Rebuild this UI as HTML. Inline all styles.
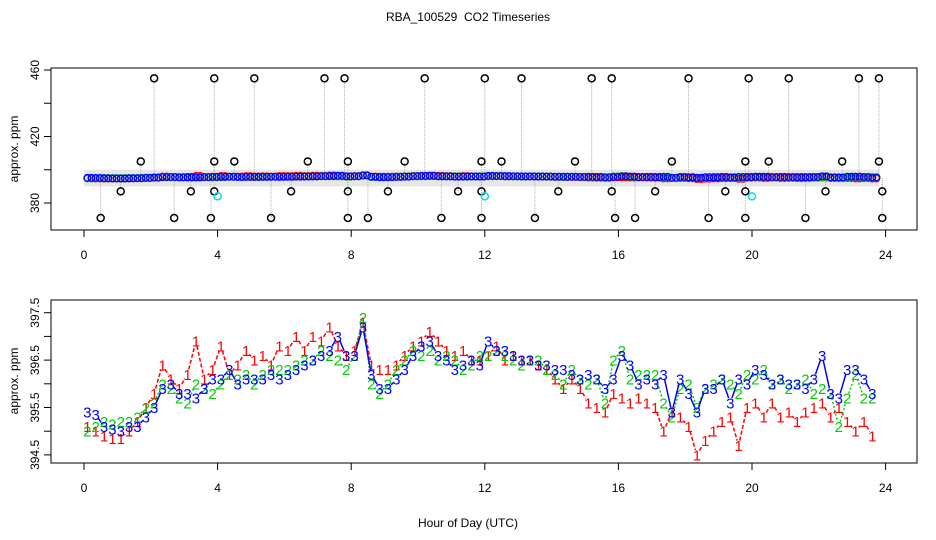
<!DOCTYPE html>
<html><head><meta charset="utf-8"><style>
html,body{margin:0;padding:0;background:#fff;}
svg{display:block;font-family:"Liberation Sans",sans-serif;}
</style></head><body>
<svg id="c" width="936" height="540" xmlns="http://www.w3.org/2000/svg">
<text x="468" y="21" text-anchor="middle" font-size="12">RBA_100529 &#160;CO2 Timeseries</text>
<text x="468" y="527" text-anchor="middle" font-size="12">Hour of Day (UTC)</text>
<text transform="translate(18,149) rotate(-90)" text-anchor="middle" font-size="12">approx. ppm</text>
<text transform="translate(18,381) rotate(-90)" text-anchor="middle" font-size="12">approx. ppm</text>
<g id="topPanel"></g>
<g id="botPanel"></g>
</svg>
<script>
const hourTicks=[0,4,8,12,16,20,24];
const topTicks=[380,400,420,440,460];
const topTickLabels=["380","","420","","460"];
const botTicks=[394.5,395,395.5,396,396.5,397,397.5];
const botTickLabels=["394.5","","395.5","","396.5","","397.5"];
const series1=[395.1,395.0,394.9,394.85,394.85,395.0,395.2,395.5,395.8,396.4,396.1,395.9,396.2,396.9,396.1,396.3,396.8,396.2,396.4,396.7,396.5,396.6,396.4,396.8,396.7,397.0,396.7,397.0,396.9,397.2,396.8,396.6,396.7,397.3,396.4,396.3,396.3,396.4,396.6,396.8,396.9,397.1,396.9,396.7,396.6,396.7,396.5,396.5,396.6,396.8,396.5,396.6,396.5,396.5,396.4,396.3,396.1,395.9,396.1,395.9,395.6,395.5,395.4,395.8,395.7,395.6,395.7,395.6,395.5,395.0,395.4,395.3,395.1,394.5,394.8,395.0,395.2,395.3,394.7,395.5,395.6,395.3,395.6,395.3,395.4,395.2,395.4,395.5,395.6,395.3,395.5,395.2,395.0,395.2,394.9];
const series2=[395.0,395.1,395.2,395.15,395.2,395.2,395.3,395.5,395.6,396.0,395.9,395.7,395.6,396.0,395.9,395.8,396.0,396.2,396.1,396.2,396.0,396.2,396.3,396.3,396.3,396.4,396.5,396.5,396.7,396.6,396.5,396.3,396.6,397.4,396.0,395.8,396.0,396.3,396.5,396.7,396.6,396.7,396.5,396.6,396.5,396.3,396.4,396.6,396.6,396.7,396.6,396.5,396.4,396.5,396.5,396.3,396.2,396.0,396.3,396.1,396.0,396.1,395.6,396.5,396.7,396.1,396.2,396.2,396.2,395.6,395.3,395.9,396.0,395.5,395.9,396.0,396.1,396.0,395.8,396.2,396.1,396.3,396.0,396.1,395.9,396.0,396.1,395.8,395.9,395.8,395.1,395.7,396.2,395.7,395.7];
const series3=[395.4,395.35,395.1,395.05,395.0,395.1,395.1,395.3,395.5,395.9,396.0,395.8,395.8,395.7,395.9,396.1,396.1,396.3,396.0,396.1,396.1,396.1,396.2,396.1,396.2,396.3,396.4,396.5,396.6,396.7,397.0,396.6,396.6,397.2,396.2,395.9,395.9,396.1,396.3,396.6,396.8,396.9,396.6,396.5,396.3,396.4,396.5,396.4,396.9,396.7,396.7,396.6,396.5,396.5,396.4,396.4,396.3,396.3,396.2,396.1,396.2,396.1,395.9,396.1,396.6,396.4,396.0,396.1,396.0,396.2,395.4,396.1,395.8,395.4,395.9,395.9,396.1,395.6,396.1,396.0,396.3,396.2,396.0,396.1,396.0,396.0,395.9,396.1,396.6,395.8,395.7,396.3,396.3,396.1,395.8];
const outlierTimes=[2.1,3.9,5.1,7.2,7.8,10.2,12.0,13.1,15.2,15.8,18.1,19.9,21.1,23.2,23.8,1.7,3.9,4.5,6.7,7.9,9.6,11.9,12.5,14.7,17.6,19.8,20.5,22.7,23.8,1.1,3.2,3.9,6.2,7.9,9.1,11.2,11.9,14.2,15.8,17.1,19.2,19.8,22.2,23.9,0.5,2.7,3.8,5.6,7.9,8.5,10.7,11.9,13.5,15.9,16.5,18.7,19.8,21.6,23.9];
const outlierValues=[455,455,455,455,455,455,455,455,455,455,455,455,455,455,455,405,405,405,405,405,405,405,405,405,405,405,405,405,405,387,387,387,387,387,387,387,387,387,387,387,387,387,387,387,371,371,371,371,371,371,371,371,371,371,371,371,371,371,371];
const cyanTimes=[4.0,12.0,20.0];
const cyanValues=[384,384,384];
const times=series1.map((_,i)=>0.1+0.25*i);

const NS="http://www.w3.org/2000/svg";
function mk(p,tag,a){const e=document.createElementNS(NS,tag);for(const k in a)e.setAttribute(k,a[k]);p.appendChild(e);return e;}
const X=t=>84+t*33.4;
const Yt=v=>70+(460-v)*133/80;
const Yb=v=>312.7+(397.5-v)*47.4;

function frame(g,y0,y1,ticks,labels,Y,nm){
  const r=mk(g,'rect',{x:51,y:y0,width:866,height:y1-y0,fill:'none',stroke:'#000','stroke-width':1});
  
  
  hourTicks.forEach(h=>{
    const l=mk(g,'line',{x1:X(h),x2:X(h),y1:y1,y2:y1+7,stroke:'#000'});
    
    
    const t=mk(g,'text',{x:X(h),y:y1+29,'text-anchor':'middle','font-size':12});
    t.textContent=h;
    
    
  });
  ticks.forEach((v,i)=>{
    const l=mk(g,'line',{x1:44,x2:51,y1:Y(v),y2:Y(v),stroke:'#000'});
    
    
    if(labels[i]){const t=mk(g,'text',{transform:`translate(39,${Y(v)}) rotate(-90)`,'text-anchor':'middle','font-size':12});
      t.textContent=labels[i];
      
      }
  });
}
const gTop=document.getElementById('topPanel'), gBot=document.getElementById('botPanel');
frame(gTop,68,230,topTicks,topTickLabels,Yt,'top');
frame(gBot,300,463,botTicks,botTickLabels,Yb,'bottom');

const band=mk(gTop,'rect',{x:X(0),y:Yt(400),width:X(23.8)-X(0),height:Yt(390)-Yt(400),fill:'#e6e6e6'});


outlierTimes.forEach((t,i)=>{
  const l=mk(gTop,'line',{x1:X(t),x2:X(t),y1:Yt(395),y2:Yt(outlierValues[i]),stroke:'#b0b0b0','stroke-dasharray':'1,1'});
  
  
});
[[series1,'#f00'],[series2,'#0c0'],[series3,'#00f']].forEach(([s,c],k)=>{
  s.forEach((v,i)=>{
    [times[i],times[i]+0.125].forEach(t=>{
      const e=mk(gTop,'circle',{cx:X(t),cy:Yt(395.6+(v-396)*0.8),r:3.3,fill:'none',stroke:c,'stroke-width':1.3});
      
      
    });
  });
});
outlierTimes.forEach((t,i)=>{
  const e=mk(gTop,'circle',{cx:X(t),cy:Yt(outlierValues[i]),r:3.5,fill:'none',stroke:'#000','stroke-width':1.5});
  
  
});
cyanTimes.forEach((t,i)=>{
  const e=mk(gTop,'circle',{cx:X(t),cy:Yt(cyanValues[i]),r:3.5,fill:'none',stroke:'#0dd','stroke-width':1.5});
  
  
});

[[series1,'#f00','1','4,2'],[series2,'#0c0','2','2,2'],[series3,'#00f','3','none']].forEach(([s,c,lab,d])=>{
  for(let i=0;i<s.length-1;i++){
    const x1=X(times[i]),y1=Yb(s[i]),x2=X(times[i+1]),y2=Yb(s[i+1]);
    const L=Math.hypot(x2-x1,y2-y1), g=5;
    if(L>2*g){
      const ux=(x2-x1)/L,uy=(y2-y1)/L;
      const l=mk(gBot,'line',{x1:x1+ux*g,y1:y1+uy*g,x2:x2-ux*g,y2:y2-uy*g,stroke:c,'stroke-width':1.5,'stroke-dasharray':d});
      
      
    }
  }
  s.forEach((v,i)=>{
    const t=mk(gBot,'text',{x:X(times[i]),y:Yb(v)+5.5,'text-anchor':'middle','font-size':15,fill:c});
    t.textContent=lab;
    
    
  });
});
</script>
</body></html>
